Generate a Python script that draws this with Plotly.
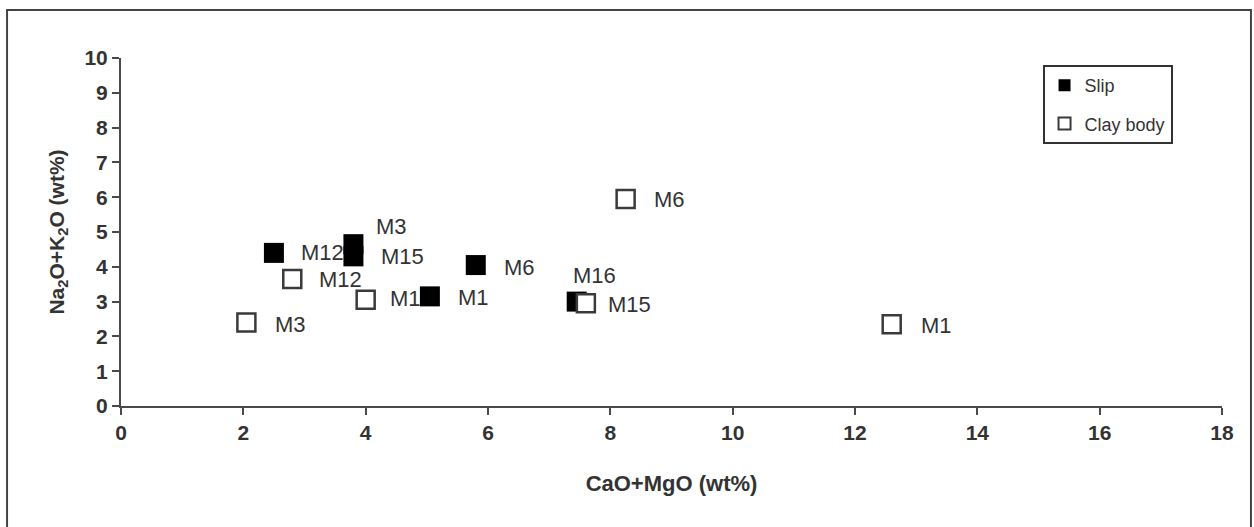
import plotly.graph_objects as go

# Alkali vs. alkaline-earth oxide content of slips and clay bodies
slip_labels = ["M12", "M3", "M15", "M1", "M6", "M16"]
slip_cao_mgo = [2.5, 3.8, 3.8, 5.05, 5.8, 7.45]
slip_na2o_k2o = [4.4, 4.65, 4.3, 3.15, 4.05, 3.0]

clay_labels = ["M3", "M12", "M1", "M6", "M15", "M1"]
clay_cao_mgo = [2.05, 2.8, 4.0, 8.25, 7.6, 12.6]
clay_na2o_k2o = [2.4, 3.65, 3.05, 5.95, 2.95, 2.35]

x_ticks = [0, 2, 4, 6, 8, 10, 12, 14, 16, 18]
y_ticks = [0, 1, 2, 3, 4, 5, 6, 7, 8, 9, 10]

# label placement (pixel offsets from each marker centre)
slip_label_offsets = [(25, 0), (21, 18), (26, 0), (26, -1), (26, -2), (-6, 26)]
clay_label_offsets = [(27, -2), (25, -1), (22, 1), (26, -1), (20, -1), (27, -1)]

FONT = "Liberation Sans, Arial, sans-serif"
AXIS_COLOR = "#4a4a4a"

fig = go.Figure()
fig.add_trace(go.Scatter(
    x=slip_cao_mgo, y=slip_na2o_k2o, mode="markers", name="Slip",
    legendgroup="slip",
    marker=dict(symbol="square", size=20, color="black", line=dict(width=0)),
))
fig.add_trace(go.Scatter(
    x=clay_cao_mgo, y=clay_na2o_k2o, mode="markers", name="Clay body",
    legendgroup="clay",
    marker=dict(symbol="square", size=18, color="white",
                line=dict(width=2.5, color="#3a3a3a")),
))

annotations = []
for labels, xs, ys, offs in [
    (slip_labels, slip_cao_mgo, slip_na2o_k2o, slip_label_offsets),
    (clay_labels, clay_cao_mgo, clay_na2o_k2o, clay_label_offsets),
]:
    for lab, xv, yv, (dx, dy) in zip(labels, xs, ys, offs):
        annotations.append(dict(
            x=xv, y=yv, xref="x", yref="y", text=lab, showarrow=False,
            xanchor="left", yanchor="middle", xshift=dx, yshift=dy,
            font=dict(family=FONT, size=22, color="#333333"),
        ))

fig.update_layout(
    width=1254, height=527,
    margin=dict(l=121, r=32, t=58, b=121),
    paper_bgcolor="white", plot_bgcolor="white",
    font=dict(family=FONT, color="#333333"),
    showlegend=True,
    legend=dict(
        x=0.837, y=0.98, xanchor="left", yanchor="top",
        bordercolor="#333333", borderwidth=2, bgcolor="white",
        font=dict(family=FONT, size=18, color="#333333"),
        itemsizing="constant", tracegroupgap=12,
    ),
    annotations=annotations,
    shapes=[dict(
        type="rect", xref="paper", yref="paper",
        x0=-0.1035, x1=1.0263, y0=-0.40, y1=1.138,
        line=dict(color="#444444", width=2), fillcolor="rgba(0,0,0,0)",
        layer="below",
    )],
)

fig.update_xaxes(
    range=[0, 18], tickvals=x_ticks, ticktext=[str(v) for v in x_ticks],
    showgrid=False, zeroline=False, showline=True, linecolor=AXIS_COLOR,
    linewidth=2, ticks="outside", ticklen=7, tickwidth=2, tickcolor=AXIS_COLOR,
    tickfont=dict(family=FONT, size=21, color="#333333", weight="bold"),
    title=dict(text="<b>CaO+MgO (wt%)</b>", standoff=32,
               font=dict(family=FONT, size=22, color="#333333")),
)
fig.update_yaxes(
    range=[0, 10], tickvals=y_ticks, ticktext=[str(v) for v in y_ticks],
    showgrid=False, zeroline=False, showline=True, linecolor=AXIS_COLOR,
    linewidth=2, ticks="outside", ticklen=7, tickwidth=2, tickcolor=AXIS_COLOR,
    tickfont=dict(family=FONT, size=21, color="#333333", weight="bold"),
    title=dict(text="<b>Na<sub>2</sub>O+K<sub>2</sub>O (wt%)</b>", standoff=14,
               font=dict(family=FONT, size=21, color="#333333")),
)

fig.write_html("out.html")
